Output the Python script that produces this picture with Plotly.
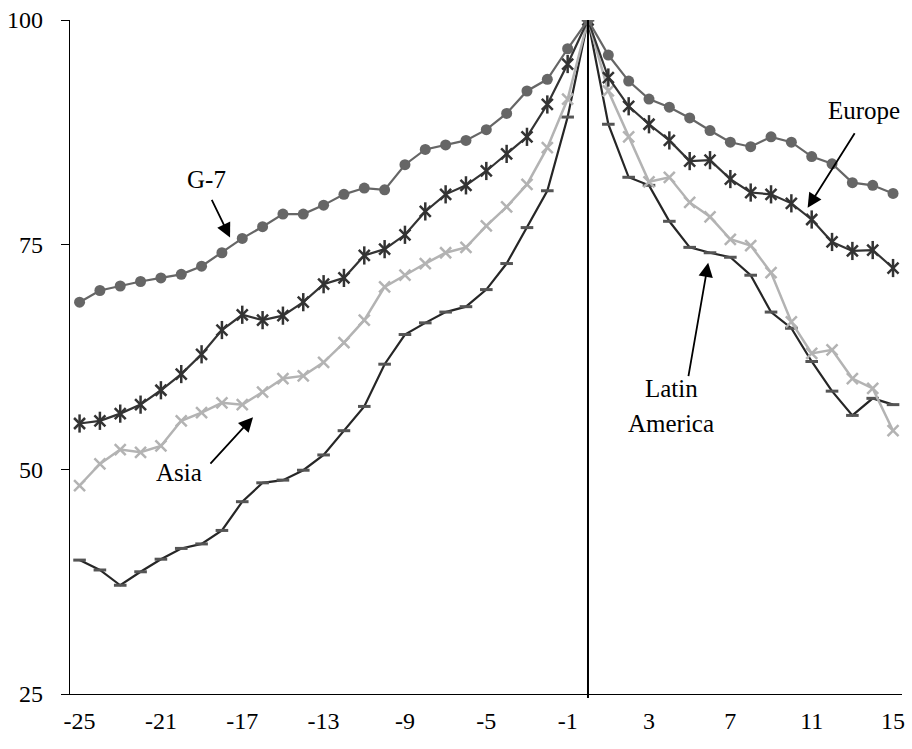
import plotly.graph_objects as go

x_vals = list(range(-25, 16))

g7 = [68.6, 69.9, 70.4, 70.9, 71.3, 71.7, 72.6, 74.1, 75.7, 77.0, 78.4, 78.4, 79.4,
      80.6, 81.3, 81.1, 83.9, 85.6, 86.1, 86.6, 87.8, 89.6, 92.1, 93.4, 96.8, 100.0,
      96.1, 93.2, 91.2, 90.3, 89.1, 87.7, 86.4, 85.9, 87.0, 86.4, 84.8, 84.0, 81.9, 81.6, 80.7]

europe = [55.1, 55.4, 56.2, 57.2, 58.8, 60.6, 62.8, 65.5, 67.2, 66.6, 67.1, 68.6, 70.6,
          71.3, 73.8, 74.5, 76.1, 78.7, 80.6, 81.6, 83.2, 85.1, 87.0, 90.6, 95.1, 100.0,
          93.6, 90.4, 88.4, 86.6, 84.3, 84.4, 82.3, 80.8, 80.6, 79.6, 77.8, 75.3, 74.3, 74.4, 72.4]

asia = [48.2, 50.6, 52.2, 51.9, 52.6, 55.4, 56.3, 57.4, 57.2, 58.6, 60.1, 60.4, 61.9,
        64.1, 66.6, 70.3, 71.6, 72.9, 74.1, 74.7, 77.1, 79.2, 81.7, 85.8, 91.2, 100.0,
        92.1, 87.0, 82.0, 82.5, 79.7, 78.1, 75.6, 74.9, 71.9, 66.4, 62.9, 63.3, 60.1, 59.0, 54.3]

latin = [39.9, 38.8, 37.1, 38.6, 40.0, 41.2, 41.7, 43.2, 46.4, 48.5, 48.8, 49.9, 51.6,
         54.3, 57.0, 61.7, 65.0, 66.3, 67.5, 68.1, 70.0, 72.9, 76.9, 81.0, 89.2, 100.0,
         88.4, 82.5, 81.6, 77.6, 74.7, 74.1, 73.6, 71.6, 67.5, 65.7, 62.0, 58.7, 56.0, 57.9, 57.2]

x_ticks = list(range(-25, 16, 4))
x_tick_labels = [str(v) for v in x_ticks]
y_ticks = [25, 50, 75, 100]

FONT = "Liberation Serif"

fig = go.Figure()

# Latin America
fig.add_trace(go.Scatter(
    x=x_vals, y=latin, mode="lines+markers", name="Latin America",
    line=dict(color="#262626", width=2.2),
    marker=dict(symbol="line-ew-open", size=9, color="#555555",
                line=dict(color="#555555", width=3)),
))
# Asia
fig.add_trace(go.Scatter(
    x=x_vals, y=asia, mode="lines+markers", name="Asia",
    line=dict(color="#b3b3b3", width=2.5),
    marker=dict(symbol="x-thin-open", size=11, color="#b3b3b3",
                line=dict(color="#b3b3b3", width=2.5)),
))
# Europe
fig.add_trace(go.Scatter(
    x=x_vals, y=europe, mode="lines+markers", name="Europe",
    line=dict(color="#333333", width=2.2),
    marker=dict(symbol="x-thin-open", size=11, color="#333333",
                line=dict(color="#333333", width=2.5)),
))
fig.add_trace(go.Scatter(
    x=x_vals, y=europe, mode="markers", name="Europe", showlegend=False,
    marker=dict(symbol="line-ns-open", size=13, color="#333333",
                line=dict(color="#333333", width=2.5)),
))
# G-7
fig.add_trace(go.Scatter(
    x=x_vals, y=g7, mode="lines+markers", name="G-7",
    line=dict(color="#666666", width=2.2),
    marker=dict(symbol="circle", size=11, color="#666666", line=dict(width=0)),
))

# vertical line at 0
fig.add_shape(type="line", xref="x", yref="paper", x0=0, x1=0, y0=-0.006, y1=1,
              line=dict(color="black", width=2))

arrow = dict(showarrow=True, arrowhead=2, arrowsize=1.6, arrowwidth=1.8,
             arrowcolor="black", text="", axref="pixel", ayref="pixel")
fig.add_annotation(x=-17.6, y=75.8, ax=-19, ay=-39, **arrow)
fig.add_annotation(x=10.8, y=79.1, ax=48, ay=-76, **arrow)
fig.add_annotation(x=-16.47, y=55.8, ax=-44, ay=48, **arrow)
fig.add_annotation(x=5.91, y=73.0, ax=-20, ay=115, **arrow)

lab = dict(showarrow=False, font=dict(family=FONT, size=25, color="black"))
fig.add_annotation(x=-18.77, y=82.2, text="G-7", **lab)
fig.add_annotation(x=13.59, y=89.9, text="Europe", **lab)
fig.add_annotation(x=-20.09, y=49.6, text="Asia", **lab)
fig.add_annotation(x=4.1, y=59.0, text="Latin", **lab)
fig.add_annotation(x=4.1, y=55.1, text="America", **lab)

fig.update_layout(
    width=912, height=749,
    margin=dict(l=68, r=7, t=19, b=55),
    paper_bgcolor="white", plot_bgcolor="white",
    showlegend=False,
    font=dict(family=FONT, size=24, color="black"),
    xaxis=dict(range=[-25.47, 15.44], tickvals=x_ticks, ticktext=x_tick_labels,
               ticks="", showgrid=False,
               zeroline=False, showline=True, linecolor="black", linewidth=1.3,
               ticklabelstandoff=5, tickfont=dict(family=FONT, size=24)),
    yaxis=dict(range=[25, 100], tickvals=y_ticks, ticks="outside", ticklen=8,
               tickcolor="black", tickwidth=1.3, showgrid=False, zeroline=False,
               showline=True, linecolor="black", linewidth=1.3,
               ticklabelstandoff=13, tickfont=dict(family=FONT, size=24)),
)

fig.write_html("out.html", config={"displayModeBar": False},
               post_script="document.body.style.margin='0';document.body.style.overflow='hidden';")
